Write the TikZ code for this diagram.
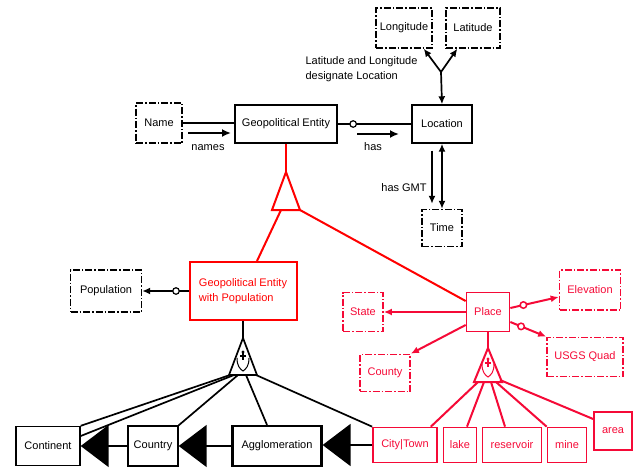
\documentclass[tikz,border=0pt]{standalone}
\usepackage{fontspec}
\setmainfont{Liberation Sans}
\usetikzlibrary{arrows.meta,calc}
\definecolor{genred}{RGB}{255,0,0}
\definecolor{placered}{RGB}{245,10,55}
\begin{document}
\begin{tikzpicture}[x=1pt,y=-1pt,
  every node/.style={font=\fontsize{11}{14.5}\selectfont},
  sz/.style 2 args={minimum width=#1pt, minimum height=#2pt},
  ent/.style={draw, line width=1.4pt, inner sep=0pt},
  dd/.style={dash pattern=on 7pt off 2pt on 1.5pt off 2pt},
  rent/.style={ent, draw=placered, text=placered, line width=1.7pt},
  link/.style={line width=1.7pt},
  tip/.style={-{Latex[length=8pt,width=7pt]}},
  tipboth/.style={{Latex[length=8pt,width=7pt]}-{Latex[length=8pt,width=7pt]}},
  flow/.style={line width=2.6pt,-{Latex[length=9pt,width=8pt]}},
  circ/.style={circle, draw, fill=white, inner sep=0pt, minimum size=6.5pt, line width=1.2pt},
  bigtip/.style={link,-{Triangle[length=28pt,width=42pt]}},
  genline/.style={genred, line width=2pt},
  pline/.style={placered, line width=2pt}
]
\useasboundingbox (0,0) rectangle (634,469);

% ---------- upper part: entity, name, location ----------
\node[ent,dd,sz={56}{40}] (lon) at (404,28) {Longitude};
\node[ent,dd,sz={54}{40}] (lat) at (473,28) {Latitude};
\node[anchor=west,align=left] (lbl) at (302,69) {Latitude and Longitude\\designate Location};
\node[ent,sz={60}{38}] (loc) at (442,124) {Location};
\node[ent,sz={102}{38}] (ge) at (286,124) {Geopolitical Entity};
\node[ent,dd,sz={46}{40}] (name) at (159,123) {Name};
\node[ent,dd,sz={40}{37}] (time) at (442,228) {Time};

% name relation
\draw[link] (name.east) -- (name.east -| ge.west);
\coordinate (na1) at (188,133);
\coordinate (na2) at (231,133);
\draw[flow] (na1) -- (na2);
\node (lnames) at (208,148) {names};

% location relation
\draw[link] (ge.east) -- (loc.west) node[circ,pos=0.21] (c1) {};
\coordinate (ha1) at (357,134);
\coordinate (ha2) at (399,134);
\draw[flow] (ha1) -- (ha2);
\node (lhas) at (373,147) {has};

% longitude / latitude fork
\coordinate (J) at (441,72);
\draw[link,tip] (J) -- ([xshift=-9pt]lon.south east);
\draw[link,tip] (J) -- ([xshift=12pt]lat.south west);
\draw[link,tip] (J) -- (loc.north);

% GMT time relation
\draw[link,tipboth] (loc.south) -- (time.north);
\draw[link,tip] ([xshift=-10pt,yshift=-7pt]loc.south) -- ([xshift=-10pt,yshift=5pt]time.north);
\node (lgmt) at (404,188) {has GMT};

% ---------- generalization of Geopolitical Entity ----------
\coordinate (t1a) at (286,172);
\coordinate (t1l) at (272,210);
\coordinate (t1r) at (300,210);
\coordinate (t1m) at (281,210);
\draw[genline] (ge.south) -- (t1a);
\draw[genline, line join=miter] (t1a) -- (t1l) -- (t1r) -- cycle;

\node[ent, draw=genred, text=genred, line width=2pt, sz={107}{58}, align=left] (gep) at (243,291) {Geopolitical Entity\\with Population};
\node[ent,dd,sz={71}{42}] (pop) at (106,291) {Population};
\node[rent,sz={43}{39}] (place) at (488,312) {Place};

\draw[genline] (t1m) -- ([xshift=14pt]gep.north);
\draw[genline] (t1r) -- ([yshift=11pt]place.west);

% population attribute
\draw[link,tip] (gep.west) -- (pop.east) node[circ,pos=0.27] (c2) {};

% ---------- composition below GEP ----------
\coordinate (t2a) at (243,338);
\coordinate (t2l) at (229,375);
\coordinate (t2r) at (257,375);
\draw[link] (gep.south) -- (t2a);
\draw[link, line join=miter] (t2a) -- (t2l) -- (t2r) -- cycle;
\draw[line width=1pt] (237,358) .. controls (237,366) and (240,369) .. (243,371)
                      .. controls (246,369) and (249,366) .. (249,358);
\fill (243,352) circle (1.6pt);
\draw[line width=1.2pt] (240,356) -- (246,356) (243,353) -- (243,360);

\node[ent,sz={64}{39}] (cont) at (48,446) {Continent};
\node[ent,sz={50}{40}] (country) at (153,446) {Country};
\node[ent,line width=2.2pt,sz={89}{40}] (aggl) at (277,446) {Agglomeration};
\node[rent,sz={64}{35}] (city) at (405,445) {City|Town};
\node[rent,sz={33}{35}] (lake) at (460,445) {lake};
\node[rent,sz={59}{35}] (res) at (512,445) {reservoir};
\node[rent,sz={39}{35}] (mine) at (567,445) {mine};
\node[rent,sz={38}{38}] (area) at (613,431) {area};

\draw[link] (230,375) -- (cont.north east);
\draw[link] (234,375) -- ([yshift=10pt]cont.east);
\draw[link] (238,375) -- (country.north east);
\draw[link] (246,375) -- ([xshift=-10pt]aggl.north);
\draw[link] (256,375) -- (city.north west);

% containment arrows
\draw[bigtip] (country.west) -- (cont.east);
\draw[bigtip] (aggl.west) -- (country.east);
\draw[bigtip] (city.west) -- (city.west -| aggl.east);

% ---------- Place attributes ----------
\node[rent,dd,sz={40}{39}] (state) at (363,312) {State};
\node[rent,dd,sz={50}{37}] (county) at (385,373) {County};
\node[rent,dd,sz={61}{40}] (elev) at (590,290) {Elevation};
\node[rent,dd,sz={76}{39}] (usgs) at (585,357) {USGS Quad};

\draw[pline,tip] (place.west) -- (state.east);
\draw[pline,tip] ([yshift=-13pt]place.west) -- (county.north east);
\draw[pline,tip] ([yshift=4pt]place.east) -- ([yshift=-7pt]elev.west) node[circ,draw=placered,line width=1.5pt,pos=0.27] (c3) {};
\draw[pline,tip] ([yshift=-10pt]place.east) -- (usgs.north west) node[circ,draw=placered,line width=1.5pt,pos=0.3] (c4) {};

% ---------- composition below Place ----------
\coordinate (t3a) at (488,348);
\coordinate (t3l) at (474,382);
\coordinate (t3r) at (502,382);
\draw[pline] (place.south) -- (t3a);
\draw[pline, line join=miter] (t3a) -- (t3l) -- (t3r) -- cycle;
\draw[placered, line width=1pt] (482,364) .. controls (482,372) and (485,375) .. (488,377)
                      .. controls (491,375) and (494,372) .. (494,364);
\fill[placered] (488,359) circle (1.6pt);
\draw[placered, line width=1.2pt] (485,363) -- (491,363) (488,360) -- (488,367);

\draw[pline] (478,382) -- ([xshift=-7pt]city.north east);
\draw[pline] (484,382) -- ([xshift=7pt]lake.north);
\draw[pline] (491,382) -- ([xshift=-7pt]res.north);
\draw[pline] (496,382) -- (mine.north west);
\draw[pline] (500,380) -- ([yshift=12pt]area.west);
\end{tikzpicture}
\end{document}
